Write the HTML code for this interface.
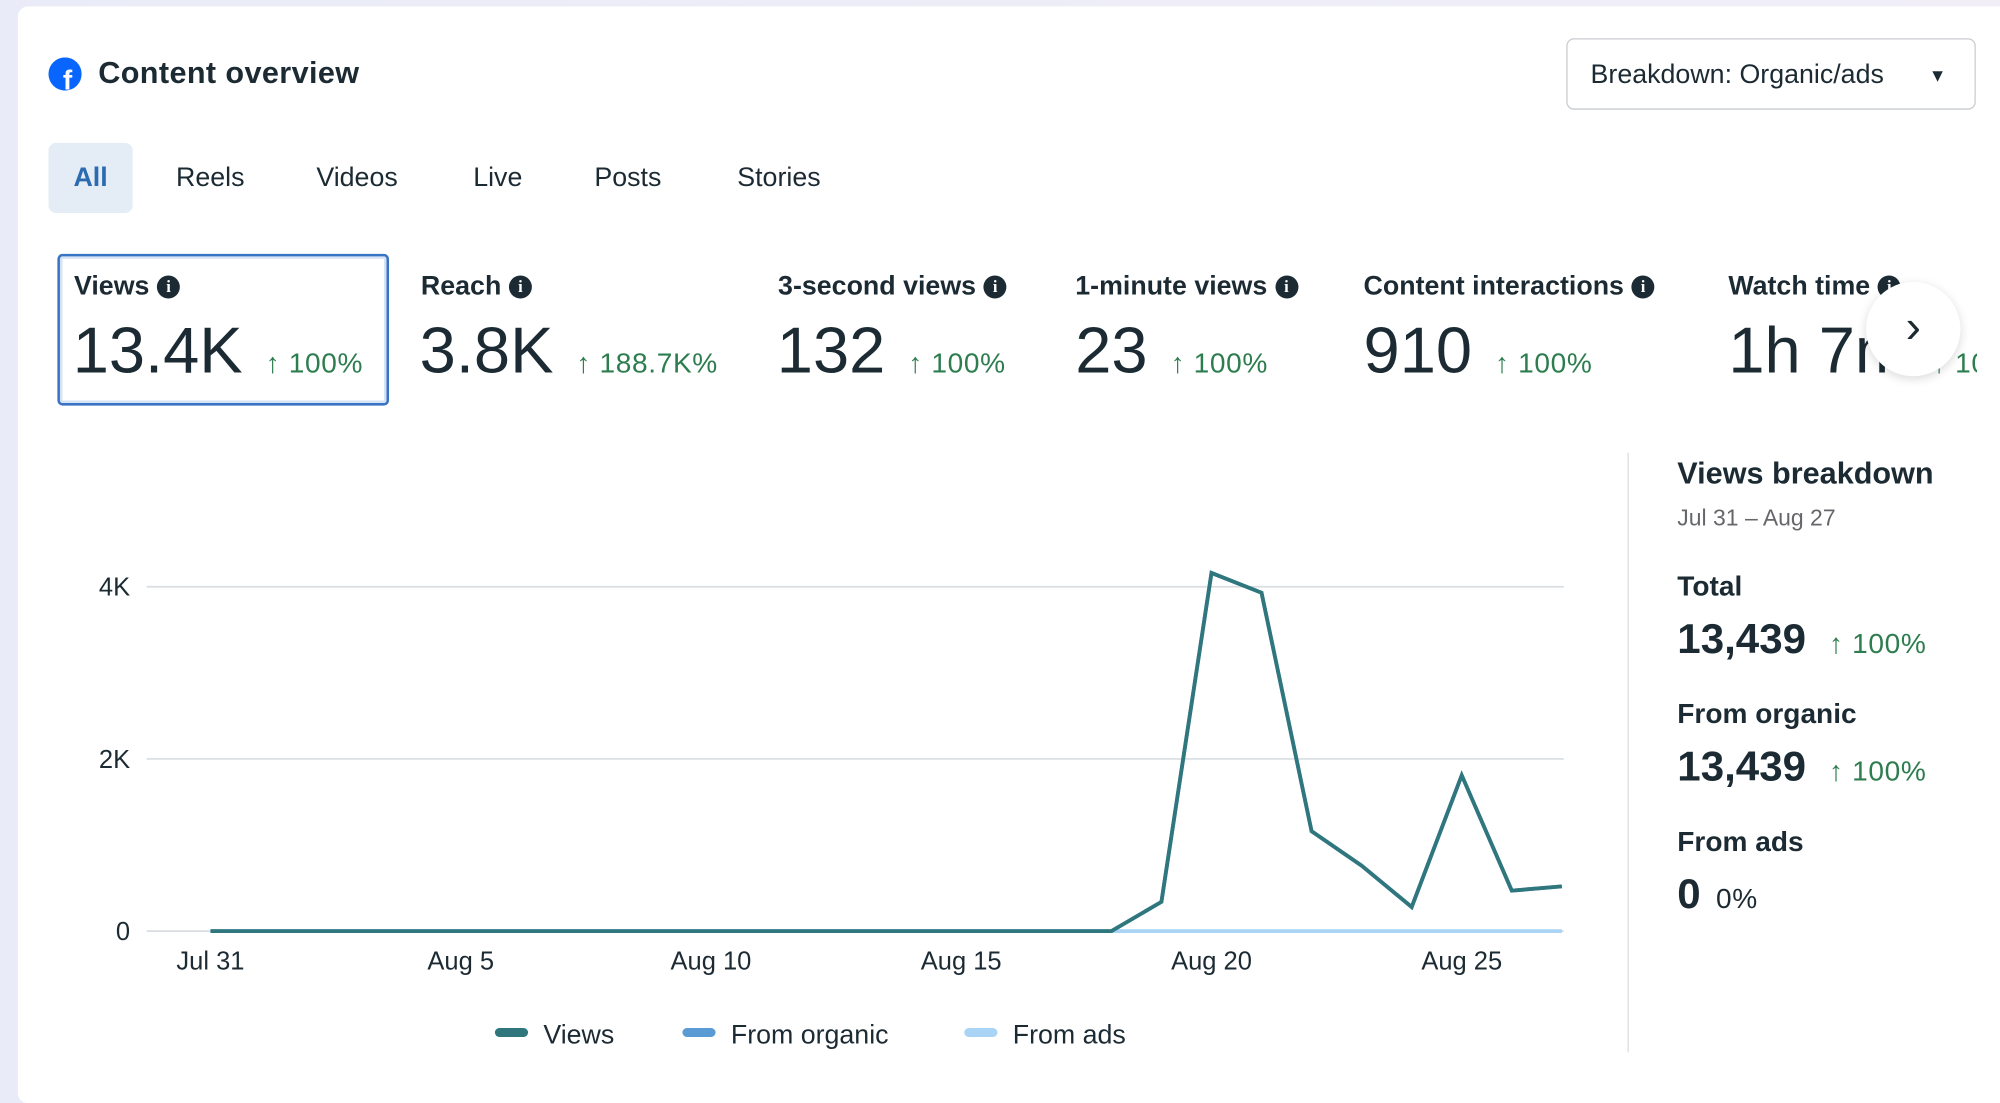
<!DOCTYPE html>
<html><head><meta charset="utf-8"><style>
html,body{margin:0;padding:0;width:2000px;height:1072px;overflow:hidden;background:linear-gradient(90deg,#e9ecf8,#f1eef8);font-family:"Liberation Sans",sans-serif;color:#1c2b33}
#wrap{position:absolute;left:0;top:0;width:1568px;height:840px;transform:scale(1.27551);transform-origin:0 0}
.card{position:absolute;left:14px;top:5px;width:1560px;height:860px;background:#fff;border-radius:8px}
.abs{position:absolute}
.tab{position:absolute;top:112px;height:55px;line-height:55px;font-size:21px;color:#1c2b33}
.mt{position:absolute;top:213px;font-size:21px;font-weight:bold;white-space:nowrap}
.info{display:inline-block;width:18px;height:18px;border-radius:50%;background:#1c2b33;color:#fff;font-size:13px;line-height:18px;text-align:center;vertical-align:2px;margin-left:6px;font-family:"Liberation Serif",serif;font-weight:bold}
.mv{position:absolute;top:245px;font-size:51px;white-space:nowrap}
.pc{font-size:22px;color:#2e7d4f;margin-left:18px;letter-spacing:0.5px}
.rh{position:absolute;left:1315px;font-size:22px;font-weight:bold}
.rv{position:absolute;left:1315px;font-size:33px;font-weight:bold}
</style></head><body>
<div id="wrap">
<div class="card"></div>
<svg class="abs" style="left:38px;top:45px" width="26" height="26"><circle cx="13" cy="13" r="13" fill="#0866ff"/><text x="15" y="25" font-size="22" font-weight="bold" fill="#fff" text-anchor="middle" font-family="Liberation Sans">f</text></svg>
<div class="abs" style="left:77px;top:44px;font-size:24px;font-weight:bold;letter-spacing:0.3px">Content overview</div>
<div class="abs" style="left:1228px;top:30px;width:321px;height:56px;border:1px solid #c8ccd1;border-radius:6px;font-size:21px;line-height:56px;box-sizing:border-box;padding-left:18px">Breakdown: Organic/ads<span style="position:absolute;right:22px;top:0;font-size:14px">▼</span></div>
<div class="tab" style="left:38px;width:66px;background:#e4edf6;border-radius:6px;text-align:center;color:#2b6cb0;font-weight:bold">All</div>
<div class="tab" style="left:138px">Reels</div>
<div class="tab" style="left:248px">Videos</div>
<div class="tab" style="left:371px">Live</div>
<div class="tab" style="left:466px">Posts</div>
<div class="tab" style="left:578px">Stories</div>
<div class="abs" style="left:45px;top:199px;width:256px;height:115px;border:2px solid #3b73c4;border-radius:4px;box-shadow:inset 0 0 0 2px #d6e3f5"></div>
<div class="mt" style="left:58px">Views<span class="info">i</span></div>
<div class="mv" style="left:57px">13.4K<span class="pc">↑ 100%</span></div>
<div class="mt" style="left:330px">Reach<span class="info">i</span></div>
<div class="mv" style="left:329px">3.8K<span class="pc">↑ 188.7K%</span></div>
<div class="mt" style="left:610px">3-second views<span class="info">i</span></div>
<div class="mv" style="left:609px">132<span class="pc">↑ 100%</span></div>
<div class="mt" style="left:843px">1-minute views<span class="info">i</span></div>
<div class="mv" style="left:843px">23<span class="pc">↑ 100%</span></div>
<div class="mt" style="left:1069px">Content interactions<span class="info">i</span></div>
<div class="mv" style="left:1069px">910<span class="pc">↑ 100%</span></div>
<div class="abs" style="left:1355px;top:200px;width:195px;height:110px;overflow:hidden">
<div class="mt" style="left:0;top:13px">Watch time<span class="info">i</span></div>
<div class="mv" style="left:0;top:45px">1h 7m<span class="pc">↑ 100%</span></div>
</div>
<div class="abs" style="left:1463px;top:221px;width:74px;height:74px;border-radius:50%;background:#fff;box-shadow:0 2px 8px rgba(0,0,0,.15);text-align:center;line-height:70px;font-size:36px;color:#1c2b33">&#x203A;</div>
<div class="abs" style="left:1276px;top:355px;width:1px;height:470px;background:#dadde1"></div>
<div class="rh" style="top:358px;font-size:24px">Views breakdown</div>
<div class="abs" style="left:1315px;top:396px;font-size:18px;color:#65676b">Jul 31 – Aug 27</div>
<div class="rh" style="top:447px">Total</div>
<div class="rv" style="top:482px">13,439<span class="pc" style="font-weight:normal">↑ 100%</span></div>
<div class="rh" style="top:547px">From organic</div>
<div class="rv" style="top:582px">13,439<span class="pc" style="font-weight:normal">↑ 100%</span></div>
<div class="rh" style="top:647px">From ads</div>
<div class="rv" style="top:682px">0<span class="pc" style="font-weight:normal;color:#1c2b33;margin-left:12px">0%</span></div>
<svg id="chart" class="abs" style="left:0;top:0" width="1568" height="840"></svg>
</div>
<script>
const days=["Jul 31","Aug 1","Aug 2","Aug 3","Aug 4","Aug 5","Aug 6","Aug 7","Aug 8","Aug 9","Aug 10","Aug 11","Aug 12","Aug 13","Aug 14","Aug 15","Aug 16","Aug 17","Aug 18","Aug 19","Aug 20","Aug 21","Aug 22","Aug 23","Aug 24","Aug 25","Aug 26","Aug 27"];
const views=[0,0,0,0,0,0,0,0,0,0,0,0,0,0,0,0,0,0,0,340,4160,3930,1160,760,280,1810,470,520];
const organic=[0,0,0,0,0,0,0,0,0,0,0,0,0,0,0,0,0,0,0,340,4160,3930,1160,760,280,1810,470,520];
const ads=[0,0,0,0,0,0,0,0,0,0,0,0,0,0,0,0,0,0,0,0,0,0,0,0,0,0,0,0];
const yTicks=[0,2000,4000];
const yTickLabels=["0","2K","4K"];
const xTickIdx=[0,5,10,15,20,25];
const svg=document.getElementById('chart');const NS='http://www.w3.org/2000/svg';
const x=i=>165+i*(1146-165)/25;
const y=v=>730-v*(730-460)/4000;
function mk(t,a){const e=document.createElementNS(NS,t);for(const k in a)e.setAttribute(k,a[k]);svg.appendChild(e);return e;}
yTicks.forEach((v,i)=>{
const g=mk('line',{x1:115,x2:1226,y1:y(v),y2:y(v),stroke:'#dadde1','stroke-width':1.3});


const t=mk('text',{x:102,y:y(v)+7,'text-anchor':'end','font-size':20,fill:'#1c2b33','font-family':'Liberation Sans'});t.textContent=yTickLabels[i];


});
xTickIdx.forEach(i=>{const t=mk('text',{x:x(i),y:760,'text-anchor':'middle','font-size':20,fill:'#1c2b33','font-family':'Liberation Sans'});t.textContent=days[i];

});
function line(data,color,name){const p=mk('polyline',{points:data.map((v,i)=>x(i)+','+y(v)).join(' '),fill:'none',stroke:color,'stroke-width':3,'stroke-linejoin':'miter'});

}
line(ads,'#a9d4f5','ads-line');
line(organic,'#5b9bd5','organic-line');
line(views,'#2f767d','views-line');
const leg=[["Views","#2f767d",388],["From organic","#5b9bd5",535],["From ads","#a9d4f5",756]];
leg.forEach(l=>{const r=mk('rect',{x:l[2],y:806,width:26,height:7,rx:3.5,fill:l[1]});


const t=mk('text',{x:l[2]+38,y:818,'font-size':21,fill:'#1c2b33','font-family':'Liberation Sans'});t.textContent=l[0];

});
</script>
</body></html>
